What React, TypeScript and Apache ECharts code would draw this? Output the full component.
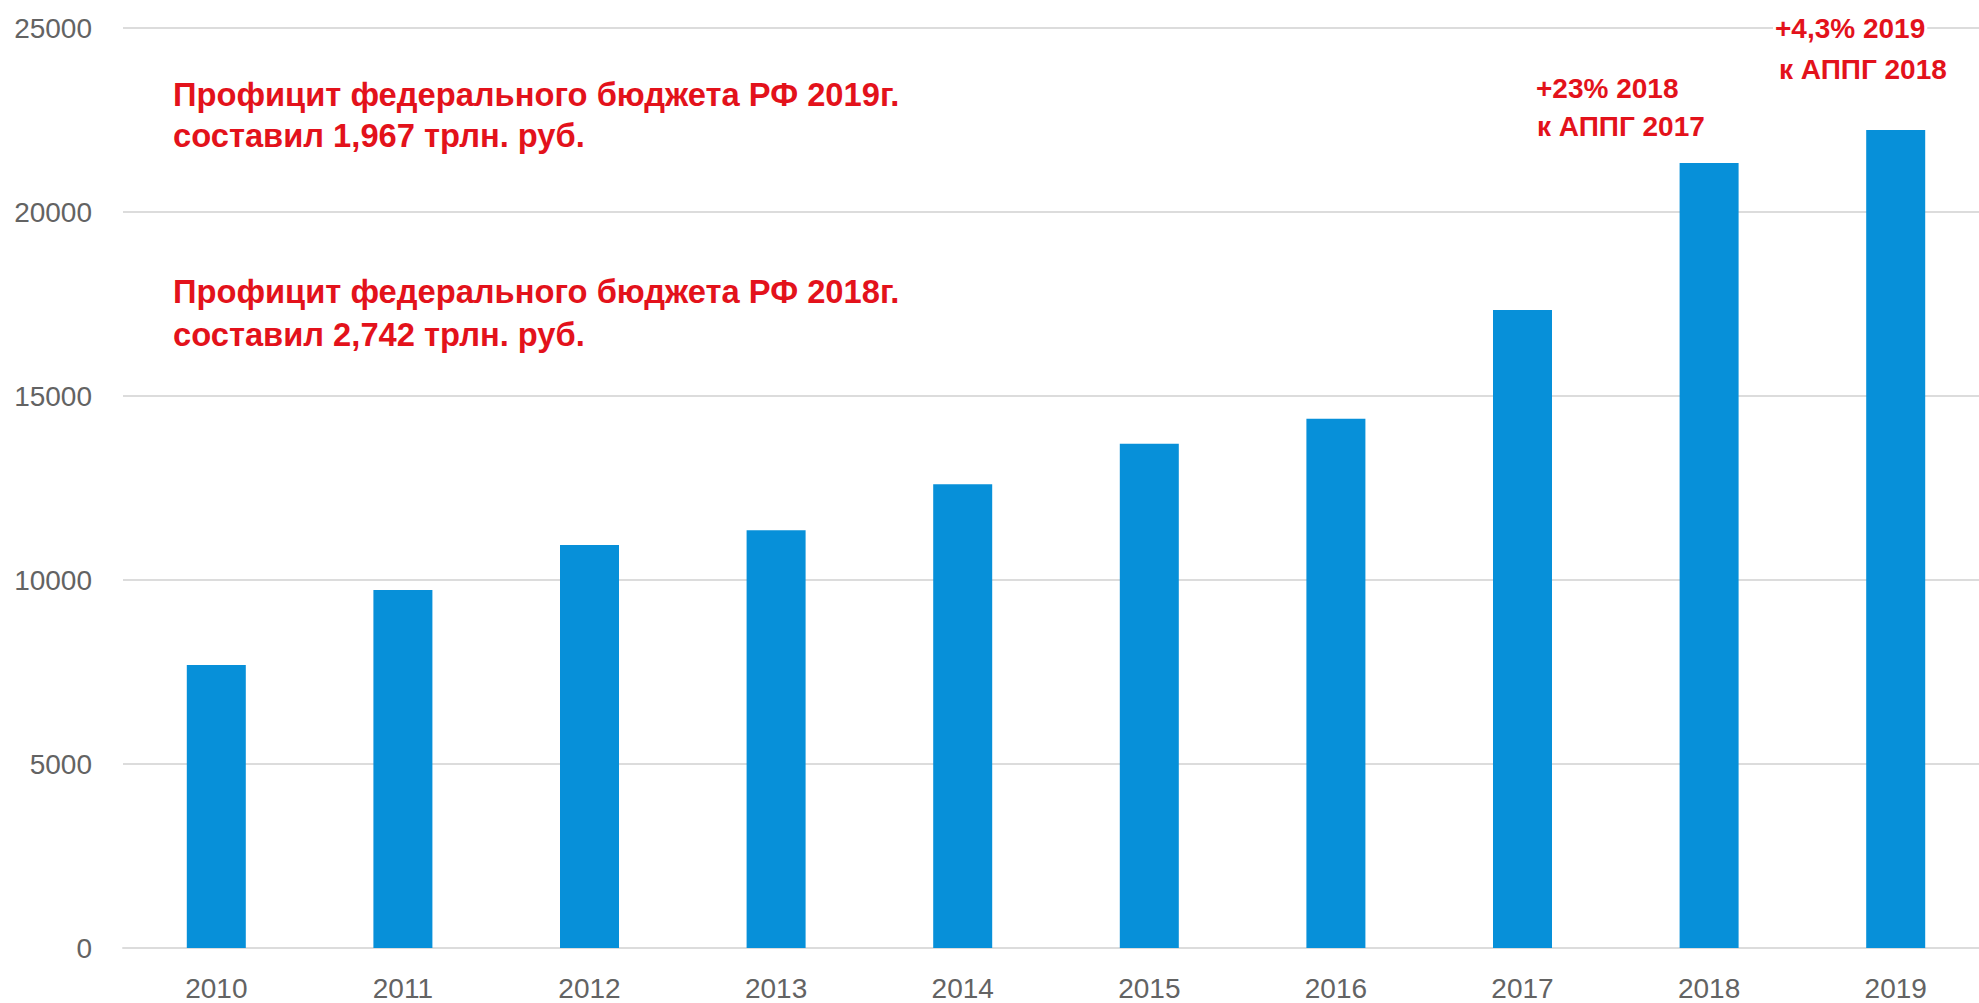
import React, { useEffect, useRef } from "react";
import * as echarts from "echarts";

const years = ["2010", "2011", "2012", "2013", "2014", "2015", "2016", "2017", "2018", "2019"];
const revenues = [7690, 9730, 10950, 11350, 12600, 13700, 14380, 17340, 21330, 22230];
const yMin = 0;
const yMax = 25000;
const yStep = 5000;

const surplusNotes = [
  "Профицит федерального бюджета РФ 2019г.",
  "составил 1,967 трлн. руб.",
  "Профицит федерального бюджета РФ 2018г.",
  "составил 2,742 трлн. руб.",
];
const growthNotes = [
  ["+23% 2018", "к АППГ 2017"],
  ["+4,3% 2019", "к АППГ 2018"],
];

const AXIS_FONT = "'Liberation Sans', Arial, sans-serif";
const RED_FONT = "'Liberation Sans', Arial, sans-serif";
const RED = "#e3121b";

export default function App() {
  const ref = useRef<HTMLDivElement>(null);

  useEffect(() => {
    if (!ref.current) return;
    const chart = echarts.init(ref.current, undefined, { renderer: "svg" });

    const noteY = [97, 138, 294, 337];
    const noteEls = surplusNotes.map((t, i) => ({
      type: "text",
      left: 173,
      top: noteY[i] - 19,
      style: { text: t, fill: RED, font: `bold 32.7px ${RED_FONT}` },
    }));
    const growthPos = [
      { x: [1534, 1535], y: [90, 128] },
      { x: [1773, 1777], y: [30, 71] },
    ];
    const growthEls: any[] = [];
    growthNotes.forEach((lines, i) => {
      lines.forEach((t, j) => {
        growthEls.push({
          type: "text",
          left: growthPos[i].x[j],
          top: growthPos[i].y[j] - 16,
          z: 10,
          style: {
            text: t,
            fill: RED,
            font: `bold 28px ${RED_FONT}`,
            backgroundColor: "#ffffff",
            padding: [0, 2],
          },
        });
      });
    });

    chart.setOption({
      animation: false,
      backgroundColor: "#ffffff",
      grid: {
        left: 123,
        right: -10,
        top: 28,
        bottom: 55,
        containLabel: false,
        outerBoundsMode: "none",
      },
      xAxis: {
        type: "category",
        data: years,
        boundaryGap: true,
        axisLine: { show: true, lineStyle: { color: "#dcdcdc", width: 2 } },
        axisTick: { show: false },
        axisLabel: {
          margin: 28,
          fontSize: 28,
          lineHeight: 24,
          color: "#636363",
          fontFamily: AXIS_FONT,
        },
      },
      yAxis: {
        type: "value",
        min: yMin,
        max: yMax,
        interval: yStep,
        axisLine: { show: false },
        axisTick: { show: false },
        axisLabel: {
          margin: 31,
          fontSize: 28,
          color: "#636363",
          fontFamily: AXIS_FONT,
          formatter: (v: number) => String(v),
        },
        splitLine: { show: true, lineStyle: { color: "#dcdcdc", width: 2 } },
      },
      series: [
        {
          type: "bar",
          data: revenues,
          barWidth: 59,
          itemStyle: { color: "#0790d9" },
        },
      ],
      graphic: [...noteEls, ...growthEls],
    });

    return () => chart.dispose();
  }, []);

  return (
    <div
      ref={ref}
      style={{ position: "fixed", left: 0, top: 0, width: 1979, height: 1003, background: "#fff" }}
    />
  );
}
